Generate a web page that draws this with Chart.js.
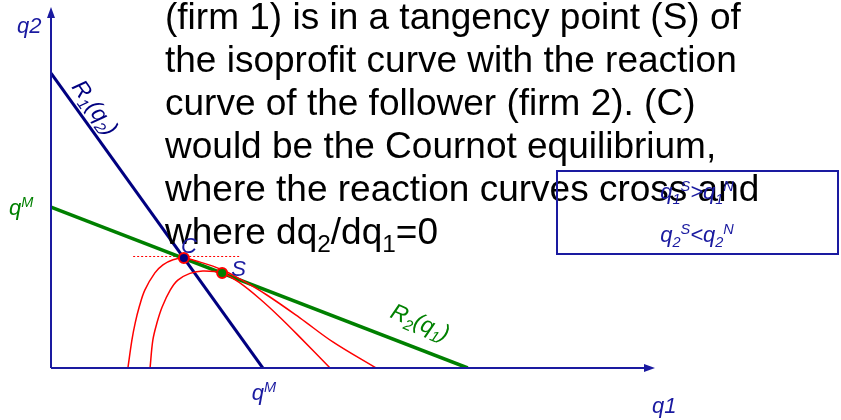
<!DOCTYPE html>
<html lang="en">
<head>
    <meta charset="UTF-8">
    <script src="https://cdn.jsdelivr.net/npm/chart.js"></script>
    <style>
        body, html {
            margin: 0;
            padding: 0;
            background: #fff;
        }
        #wrap {
            width: 841px;
            height: 420px;
            position: relative;
        }
    </style>
</head>
<body>
    <div id="wrap"><canvas id="chart"></canvas></div>
    <script>
        // reaction curves (q1, q2) end points
        const r1Line = [{x: 0, y: 73.5}, {x: 52.6, y: 0}];
        const r2Line = [{x: 0, y: 40.1}, {x: 103.5, y: 0}];

        // isoprofit curves of firm 1
        const isoOuter = [
            {x: 19.1, y: 0}, {x: 20.1, y: 7.0}, {x: 20.9, y: 11.2}, {x: 21.9, y: 15.2},
            {x: 23.3, y: 19.4}, {x: 25.8, y: 23.7}, {x: 27.8, y: 25.7}, {x: 30.3, y: 27.0},
            {x: 33.0, y: 27.4}, {x: 37.0, y: 26.4}, {x: 42.5, y: 24.5}, {x: 46.9, y: 22.2},
            {x: 53.6, y: 18.2}, {x: 61.8, y: 12.5}, {x: 70.0, y: 6.5}, {x: 80.7, y: 0}
        ];
        const isoInner = [
            {x: 24.6, y: 0}, {x: 25.3, y: 7.0}, {x: 26.3, y: 11.2}, {x: 27.6, y: 15.2},
            {x: 29.6, y: 19.4}, {x: 31.5, y: 21.9}, {x: 34.5, y: 23.6}, {x: 37.7, y: 24.2},
            {x: 42.5, y: 23.7}, {x: 46.9, y: 21.2}, {x: 51.9, y: 17.2}, {x: 56.9, y: 12.6},
            {x: 61.8, y: 7.7}, {x: 69.3, y: 0}
        ];

        // Cournot (C) and Stackelberg (S) points
        const cournot = {x: 33.0, y: 27.4};
        const stackelberg = {x: 42.5, y: 23.7};
        const tangentC = [{x: 20.4, y: 27.8}, {x: 46.9, y: 27.8}];

        // monopoly quantities on each axis
        const qM1 = 52.6;
        const qM2 = 40.1;

        const textLines = [
            '(firm 1) is in a tangency point (S) of',
            'the isoprofit curve with the reaction',
            'curve of the follower (firm 2). (C)',
            'would be the Cournot equilibrium,',
            'where the reaction curves cross and'
        ];

        const NAVY = '#000080';
        const BLUE = '#1a1aa0';
        const GREEN = '#008000';
        const RED = '#ff0000';
        const FONT = '"Liberation Sans", Arial, sans-serif';

        // draws text pieces, 'sub' and 'sup' pieces smaller and shifted
        function drawRich(ctx, parts, x, y, size, italic) {
            let cx = x;
            parts.forEach(([txt, kind]) => {
                let s = size, dy = 0;
                if (kind === 'sub') { s = size * 0.66; dy = size * 0.22; }
                if (kind === 'sup') { s = size * 0.66; dy = -size * 0.38; }
                ctx.font = (italic ? 'italic ' : '') + s + 'px ' + FONT;
                ctx.fillText(txt, cx, y + dy);
                cx += ctx.measureText(txt).width;
            });
            return cx - x;
        }

        function richWidth(ctx, parts, size, italic) {
            let w = 0;
            parts.forEach(([txt, kind]) => {
                const s = kind ? size * 0.66 : size;
                ctx.font = (italic ? 'italic ' : '') + s + 'px ' + FONT;
                w += ctx.measureText(txt).width;
            });
            return w;
        }

        const decorations = {
            id: 'decorations',
            afterDatasetsDraw(chart) {
                const ctx = chart.ctx;
                const xs = chart.scales.x, ys = chart.scales.y;
                const ox = xs.getPixelForValue(0), oy = ys.getPixelForValue(0);
                const right = chart.chartArea.right, top = chart.chartArea.top;

                ctx.save();
                // axes with arrows
                ctx.strokeStyle = BLUE;
                ctx.fillStyle = BLUE;
                ctx.lineWidth = 2;
                ctx.beginPath();
                ctx.moveTo(ox, oy); ctx.lineTo(right - 6, oy);
                ctx.moveTo(ox, oy); ctx.lineTo(ox, top + 6);
                ctx.stroke();
                ctx.beginPath();
                ctx.moveTo(right, oy); ctx.lineTo(right - 11, oy - 4); ctx.lineTo(right - 11, oy + 4);
                ctx.closePath(); ctx.fill();
                ctx.beginPath();
                ctx.moveTo(ox, top); ctx.lineTo(ox - 4, top + 11); ctx.lineTo(ox + 4, top + 11);
                ctx.closePath(); ctx.fill();

                // paragraph
                ctx.fillStyle = '#000';
                ctx.textBaseline = 'alphabetic';
                textLines.forEach((t, i) => {
                    ctx.font = '37px ' + FONT;
                    ctx.fillText(t, 165, 29 + 43 * i);
                });
                drawRich(ctx, [['where dq', ''], ['2', 'sub'], ['/dq', ''], ['1', 'sub'], ['=0', '']], 165, 29 + 43 * 5, 37, false);

                // summary box
                ctx.strokeStyle = BLUE;
                ctx.lineWidth = 2;
                ctx.strokeRect(557, 171, 281, 83);

                ctx.fillStyle = BLUE;
                const boxMid = 697;
                const l1 = [['q', ''], ['1', 'sub'], ['S', 'sup'], ['>q', ''], ['1', 'sub'], ['N', 'sup']];
                const l2 = [['q', ''], ['2', 'sub'], ['S', 'sup'], ['<q', ''], ['2', 'sub'], ['N', 'sup']];
                drawRich(ctx, l1, boxMid - richWidth(ctx, l1, 22, true) / 2, 199, 22, true);
                drawRich(ctx, l2, boxMid - richWidth(ctx, l2, 22, true) / 2, 242, 22, true);

                // axis labels
                ctx.font = 'italic 22px ' + FONT;
                ctx.fillText('q2', 17, 33);
                ctx.fillText('q1', 652, 413);
                drawRich(ctx, [['q', ''], ['M', 'sup']], xs.getPixelForValue(qM1) - 11, 400, 22, true);
                ctx.fillStyle = GREEN;
                drawRich(ctx, [['q', ''], ['M', 'sup']], 9, ys.getPixelForValue(qM2) + 8, 22, true);

                // point labels
                ctx.fillStyle = BLUE;
                ctx.font = 'italic 22px ' + FONT;
                ctx.fillText('C', xs.getPixelForValue(cournot.x) - 3, ys.getPixelForValue(cournot.y) - 5);
                ctx.fillText('S', xs.getPixelForValue(stackelberg.x) + 9, ys.getPixelForValue(stackelberg.y) + 3);

                // curve names along the lines
                ctx.save();
                ctx.translate(71, 87);
                ctx.rotate(Math.atan2(295, 212));
                ctx.fillStyle = NAVY;
                drawRich(ctx, [['R', ''], ['1', 'sub'], ['(q', ''], ['2', 'sub'], [')', '']], 0, 0, 23, true);
                ctx.restore();

                ctx.save();
                ctx.translate(389, 317);
                ctx.rotate(Math.atan2(159, 417) + 0.04);
                ctx.fillStyle = GREEN;
                drawRich(ctx, [['R', ''], ['2', 'sub'], ['(q', ''], ['1', 'sub'], [')', '']], 0, 0, 23, true);
                ctx.restore();

                ctx.restore();
            }
        };

        new Chart(document.getElementById('chart'), {
            type: 'scatter',
            data: {
                datasets: [
                    {data: [cournot], pointRadius: 5, pointBackgroundColor: NAVY, pointBorderColor: RED, pointBorderWidth: 2, order: 0},
                    {data: [stackelberg], pointRadius: 5, pointBackgroundColor: GREEN, pointBorderColor: RED, pointBorderWidth: 2, order: 0},
                    {data: isoOuter, showLine: true, borderColor: RED, borderWidth: 1.5, pointRadius: 0, tension: 0.35, order: 1},
                    {data: isoInner, showLine: true, borderColor: RED, borderWidth: 1.5, pointRadius: 0, tension: 0.35, order: 1},
                    {data: r1Line, showLine: true, borderColor: NAVY, borderWidth: 3, pointRadius: 0, order: 2},
                    {data: r2Line, showLine: true, borderColor: GREEN, borderWidth: 3.5, pointRadius: 0, order: 3},
                    {data: tangentC, showLine: true, borderColor: RED, borderWidth: 1, borderDash: [2, 2], pointRadius: 0, order: 4}
                ]
            },
            options: {
                responsive: true,
                maintainAspectRatio: false,
                animation: false,
                layout: {padding: {left: 51, top: 7, right: 186, bottom: 52}},
                scales: {
                    x: {type: 'linear', min: 0, max: 150, display: false},
                    y: {type: 'linear', min: 0, max: 90, display: false}
                },
                plugins: {legend: {display: false}, tooltip: {enabled: false}}
            },
            plugins: [decorations]
        });
    </script>
</body>
</html>
